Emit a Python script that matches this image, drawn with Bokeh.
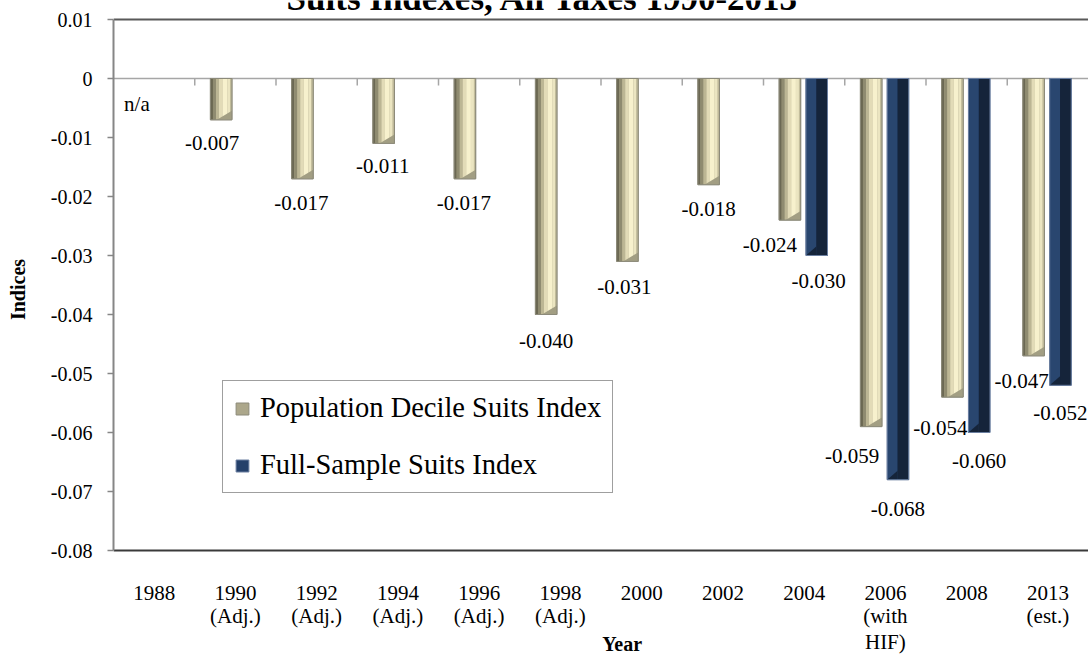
from bokeh.plotting import figure
from bokeh.layouts import column
from bokeh.models import (FixedTicker, Legend, LegendItem,
                          Span, Range1d, NumeralTickFormatter)
from bokeh.core.properties import value
from bokeh.embed import file_html
from bokeh.resources import INLINE

# ---------------- data ----------------
categories = ["1988", "1990\n(Adj.)", "1992\n(Adj.)", "1994\n(Adj.)", "1996\n(Adj.)",
              "1998\n(Adj.)", "2000", "2002", "2004", "2006\n(with\nHIF)", "2008",
              "2013\n(est.)"]
population_decile = [None, -0.007, -0.017, -0.011, -0.017, -0.040, -0.031, -0.018,
                     -0.024, -0.059, -0.054, -0.047]
full_sample = [None, None, None, None, None, None, None, None,
               -0.030, -0.068, -0.060, -0.052]
y_ticks = [0.01, 0.0, -0.01, -0.02, -0.03, -0.04, -0.05, -0.06, -0.07, -0.08]
series_names = ["Population Decile Suits Index", "Full-Sample Suits Index"]
title_text = "Suits Indexes, All Taxes 1990-2013"
x_title = "Year"
y_title = "Indices"
missing_text = "n/a"

# ---------------- style / layout ----------------
FONT = "Liberation Serif"
PX_CAT = 81.25         # pixels per category
PX_Y = 5900.0          # pixels per unit of y
Y_MIN, Y_MAX = min(y_ticks), max(y_ticks)
X_LO, X_HI = -0.5, len(categories) - 0.5
TOP_H, BOT_H = 578, 77
LINE_Y = [592, 615, 641]   # screen rows of the category label lines
W = 0.265              # bar width (category units)
OFF_POP = -0.175
OFF_FULL = 0.155
# label nudges in pixels (dx right, dy down from bar end)
pop_dx = [-3, -9, -1, -1, -1, 0, -3, 0, -20, -19, -12, -12]
pop_dy = [25, 23, 24, 23, 24, 26, 26, 24, 25, 29, 31, 25]
full_dx = [0, 0, 0, 0, 0, 0, 0, 0, 2, 0, 0, 0]
full_dy = [0, 0, 0, 0, 0, 0, 0, 0, 25, 29, 28, 28]

pop_stripes = [(0.00, 0.12, "#6b6853"), (0.12, 0.26, "#8f8b70"), (0.26, 0.40, "#bcb694"),
               (0.40, 0.56, "#e2dbb7"), (0.56, 0.78, "#f7f1cd"), (0.78, 0.92, "#ebe5c1"),
               (0.92, 1.00, "#c4be9c")]
full_stripes = [(0.00, 0.48, "#29466f"), (0.48, 1.00, "#15243a")]

p = figure(width=1088, height=TOP_H, output_backend="svg", toolbar_location=None,
           x_range=Range1d(X_LO, X_HI),
           y_range=Range1d(Y_MIN - (TOP_H - 550) / PX_Y, Y_MAX + 19 / PX_Y),
           x_axis_location=None,
           min_border_left=113, min_border_right=0, min_border_top=0,
           min_border_bottom=0)
p.background_fill_color = "white"
p.border_fill_color = "white"
p.outline_line_color = None
p.xgrid.visible = False
p.ygrid.visible = False

# plot-area border (top / bottom)
p.segment(x0=[X_LO], y0=[Y_MAX], x1=[X_HI], y1=[Y_MAX], line_color="#595959", line_width=2)
p.segment(x0=[X_LO], y0=[Y_MIN], x1=[X_HI], y1=[Y_MIN], line_color="#3a3a3a", line_width=2)

# zero line + category boundary ticks
p.add_layout(Span(location=0, dimension="width", line_color="#a6a6a6",
                  line_width=1.5, level="underlay"))
bounds = [i + 0.5 for i in range(len(categories) - 1)]
p.segment(x0=bounds, y0=[0] * len(bounds), x1=bounds, y1=[-7 / PX_Y] * len(bounds),
          line_color="#a6a6a6", line_width=1.5)


def bars(vals, off, stripes, base_fill, edge, bevel_color, bevel_kind):
    idx = [i for i, v in enumerate(vals) if v is not None]
    xc = [i + off for i in idx]
    vv = [vals[i] for i in idx]
    base = p.vbar(x=xc, width=W, top=[0] * len(vv), bottom=vv, fill_color=base_fill,
                  line_color=edge, line_width=1)
    for a, b, col in stripes:
        p.vbar(x=[x - W / 2 + W * (a + b) / 2 for x in xc], width=W * (b - a),
               top=[0] * len(vv), bottom=vv, fill_color=col, line_color=None)
    xs, ys = [], []
    h = 9 / PX_Y
    for x, v in zip(xc, vv):
        xl, xr = x - W / 2, x + W / 2
        if bevel_kind == "pop":
            xs.append([xl + 0.30 * W, xr, xr])
        else:
            xs.append([xl, xl + 0.48 * W, xl + 0.48 * W])
        ys.append([v, v + h, v])
    p.patches(xs=xs, ys=ys, fill_color=bevel_color, line_color=None)
    p.vbar(x=xc, width=W, top=[0] * len(vv), bottom=vv, fill_color=None,
           line_color=edge, line_width=1)
    return base


r_pop = bars(population_decile, OFF_POP, pop_stripes, "#aca78b", "#8c8a7a", "#a29e83", "pop")
r_full = bars(full_sample, OFF_FULL, full_stripes, "#24406a", "#6b7fa0", "#15243a", "full")

# data labels
lab_x, lab_y, lab_t = [], [], []
for i, v in enumerate(population_decile):
    base = 0.0 if v is None else v
    lab_x.append(i + OFF_POP + pop_dx[i] / PX_CAT)
    lab_y.append(base - pop_dy[i] / PX_Y)
    lab_t.append(missing_text if v is None else "%.3f" % v)
for i, v in enumerate(full_sample):
    if v is None:
        continue
    lab_x.append(i + OFF_FULL + full_dx[i] / PX_CAT)
    lab_y.append(v - full_dy[i] / PX_Y)
    lab_t.append("%.3f" % v)
p.text(x=lab_x, y=lab_y, text=lab_t, text_font=value(FONT), text_font_size="21px",
       text_align="center", text_baseline="middle", text_color="black")

# chart title (cut by the top edge, as in the original)
p.text(x=[(543 - 154) / PX_CAT], y=[Y_MAX + 21 / PX_Y], text=[title_text],
       text_font=value(FONT), text_font_size="35px", text_font_style="bold",
       text_align="center", text_baseline="middle", text_color="black")

# y axis
p.yaxis.ticker = FixedTicker(ticks=y_ticks)
p.yaxis.formatter = NumeralTickFormatter(format="0.[00]")
p.yaxis.major_label_text_font = FONT
p.yaxis.major_label_text_font_size = "20px"
p.yaxis.major_label_text_color = "black"
p.yaxis.major_tick_out = 6
p.yaxis.major_tick_in = 0
p.yaxis.minor_tick_line_color = None
p.yaxis.major_tick_line_color = "#868686"
p.yaxis.major_tick_line_width = 1.5
p.yaxis.axis_line_color = "#868686"
p.yaxis.axis_line_width = 2
p.yaxis.bounds = (Y_MIN, Y_MAX)
p.yaxis.major_label_standoff = 15
p.yaxis.axis_label = y_title
p.yaxis.axis_label_text_font = FONT
p.yaxis.axis_label_text_font_size = "20px"
p.yaxis.axis_label_text_font_style = "bold"
p.yaxis.axis_label_text_color = "black"
p.yaxis.axis_label_standoff = 19

# legend
legend = Legend(items=[LegendItem(label=series_names[0], renderers=[r_pop]),
                       LegendItem(label=series_names[1], renderers=[r_full])],
                location=(109, TOP_H - 493), orientation="vertical")
legend.label_text_font = FONT
legend.label_text_font_size = "28.5px"
legend.label_text_color = "black"
legend.glyph_width = 16
legend.glyph_height = 15
legend.label_standoff = 10
legend.padding = 11
legend.spacing = 25
legend.margin = 0
legend.border_line_color = "#404040"
legend.border_line_width = 1.5
legend.background_fill_color = "white"
legend.background_fill_alpha = 1
p.add_layout(legend)

# ---------------- lower strip: category labels and x title ----------------
p2 = figure(width=1088, height=BOT_H, output_backend="svg", toolbar_location=None,
            x_range=p.x_range, y_range=Range1d(TOP_H + BOT_H, TOP_H),
            x_axis_location=None, y_axis_location=None,
            min_border_left=113, min_border_right=0, min_border_top=0,
            min_border_bottom=0)
p2.outline_line_color = None
p2.background_fill_color = "white"
p2.border_fill_color = "white"
p2.xgrid.visible = False
p2.ygrid.visible = False

cat_x, cat_y, cat_t = [], [], []
for i, c in enumerate(categories):
    for k, line in enumerate(c.split("\n")):
        cat_x.append(i)
        cat_y.append(LINE_Y[k])
        cat_t.append(line)
p2.text(x=cat_x, y=cat_y, text=cat_t, text_font=value(FONT), text_font_size="21px",
        text_align="center", text_baseline="middle", text_color="black")
p2.text(x=[(622 - 154) / PX_CAT], y=[643], text=[x_title],
        text_font=value(FONT), text_font_size="20px", text_font_style="bold",
        text_align="center", text_baseline="middle", text_color="black")

layout = column(p, p2, spacing=0)
open("out.html", "w").write(file_html(layout, INLINE))
